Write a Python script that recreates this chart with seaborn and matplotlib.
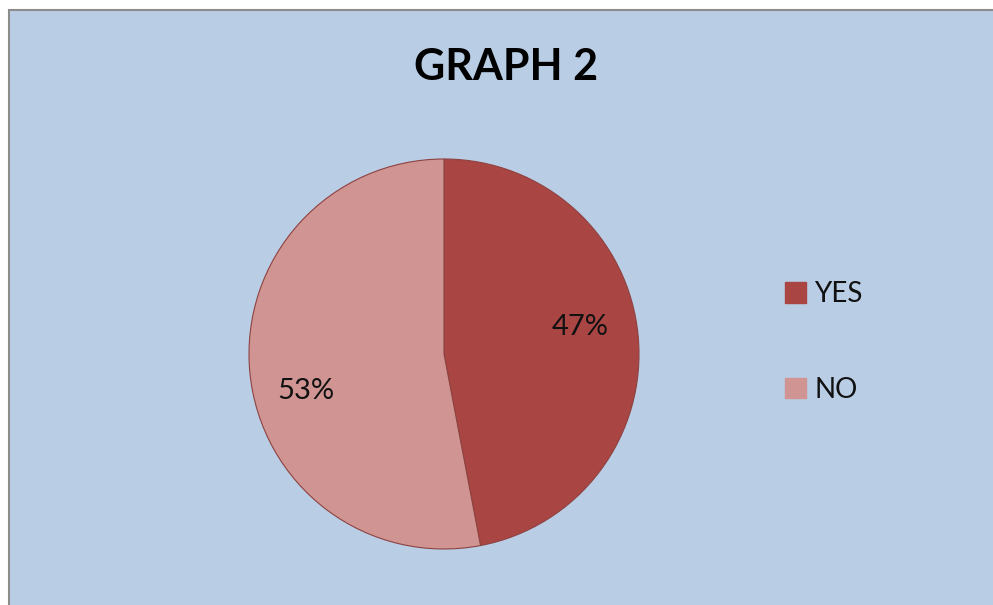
import matplotlib.pyplot as plt
import matplotlib.patches as mpatches
import seaborn as sns

# dados
categorias = ["YES", "NO"]
percentuais = [47, 53]
cores = ["#A94644", "#D09493"]
titulo = "GRAPH 2"

sns.set_theme(style="white")
plt.rcParams["font.family"] = ["Lato", "DejaVu Sans"]

fig = plt.figure(figsize=(9.93, 6.05), dpi=100, facecolor="white")

# fundo azul com borda cinza
fundo = mpatches.Rectangle(
    (9 / 993, -0.05), 1.1, 1 - 10 / 605 + 0.05,
    transform=fig.transFigure, facecolor="#B9CDE5",
    edgecolor="#8C8C8C", linewidth=1.5, zorder=-10,
)
fig.patches.append(fundo)

ax = fig.add_axes([249 / 993, 56 / 605, 390 / 993, 390 / 605])
ax.set_facecolor("none")
ax.set_zorder(5)
wedges, textos, pcts = ax.pie(
    percentuais, colors=cores, startangle=90, counterclock=False,
    autopct=lambda p: f"{round(p)}%", pctdistance=0.72, radius=1.0,
    wedgeprops={"edgecolor": "#8E4240", "linewidth": 0.8},
    textprops={"fontsize": 21, "color": "#111111"},
)
# ajuste fino da posição dos percentuais
pcts[0].set_position((0.70, 0.14))
pcts[1].set_position((-0.71, -0.19))
ax.set_xlim(-1, 1)
ax.set_ylim(-1, 1)
ax.set_aspect("equal")

fig.text(506 / 993, 1 - 67 / 605, titulo, ha="center", va="center",
         fontsize=31, fontweight="bold", color="black")

alcas = [mpatches.Patch(facecolor=c, edgecolor=c) for c in cores]
fig.legend(
    alcas, categorias, loc="center left",
    bbox_to_anchor=(760 / 993, 1 - 342 / 605), frameon=False,
    fontsize=20, handlelength=0.75, handleheight=0.75,
    handletextpad=0.3, labelspacing=2.5,
    labelcolor="#111111",
)

fig.savefig("out.png", dpi=100, facecolor="white")
